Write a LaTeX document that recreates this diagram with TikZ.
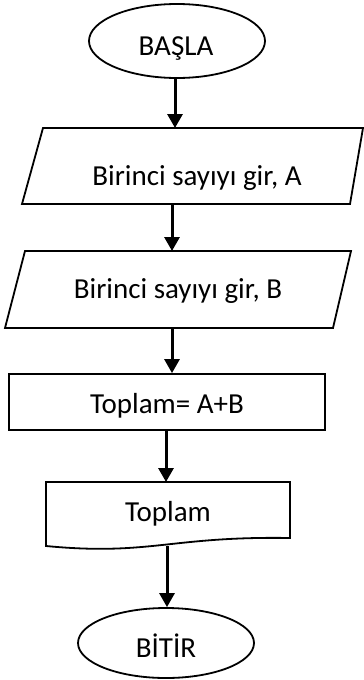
\documentclass[tikz,border=0pt]{standalone}
\usepackage{fontspec}
\setmainfont{Carlito}
\usetikzlibrary{shapes.geometric,arrows.meta}
\begin{document}
\begin{tikzpicture}[x=1pt,y=-1pt,
  shapeline/.style={line width=1.8pt},
  term/.style={ellipse, draw, shapeline, minimum width=176pt, minimum height=74pt, inner sep=0pt},
  lbl/.style={font=\fontsize{29}{34}\selectfont, anchor=base, inner sep=0pt},
  procbox/.style={rectangle, draw, shapeline, minimum width=316pt, minimum height=56pt, inner sep=0pt},
  flow/.style={line width=3pt, -{Triangle[length=14pt,width=15pt]}}]
\useasboundingbox (0,0) rectangle (364,680);

% BASLA
\node[term] (start) at (177,41) {};
\node[lbl] (startlbl) at (176,55) {BAŞLA};

% input A
\draw[shapeline] (43,128) -- (363,128) -- (350,204) -- (22,204) -- cycle;
\node[lbl] (inA) at (197,185) {Birinci sayıyı gir, A};
\coordinate (inAtop) at (175,128);
\coordinate (inAbot) at (172,204);

% input B
\draw[shapeline] (25,251) -- (351,251) -- (333,328) -- (5,328) -- cycle;
\node[lbl] (inB) at (178,298) {Birinci sayıyı gir, B};
\coordinate (inBtop) at (172,251);
\coordinate (inBbot) at (172,328);

% process
\node[procbox] (calc) at (167,402) {};
\node[lbl] (calclbl) at (167,413) {Toplam= A+B};

% output document
\draw[shapeline] (46,482) -- (290,482) -- (290,538)
  .. controls (170,536) and (150,556) .. (46,546) -- cycle;
\node[lbl] (out) at (168,521) {Toplam};
\coordinate (outtop) at (166,482);
\coordinate (outbot) at (167,546);

% BITIR
\node[term, minimum height=70pt] (stop) at (166,643) {};
\node[lbl] (stoplbl) at (166,657) {BİTİR};

% connectors
\draw[flow] (start.south -| inAtop) -- (inAtop);
\draw[flow] (inAbot) -- (inBtop);
\draw[flow] (inBbot) -- (inBbot |- calc.north);
\draw[flow] (outtop |- calc.south) -- (outtop);
\draw[flow] (outbot) -- (outbot |- stop.north);
\end{tikzpicture}
\end{document}
